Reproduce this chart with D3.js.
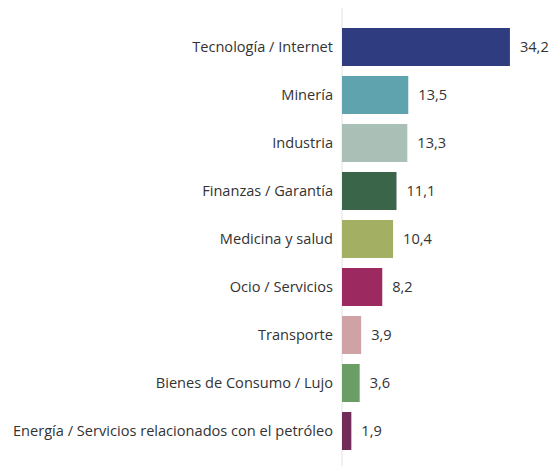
<!DOCTYPE html>
<html>
<head>
<meta charset="utf-8">
<script src="https://cdn.jsdelivr.net/npm/d3@7"></script>
<style>
  body { margin: 0; background: #fff; }
  .label { font-family: "Open Sans", "Liberation Sans", sans-serif; font-size: 14.6px; fill: #333; }
</style>
</head>
<body>
<script>
var categories = ['Tecnología / Internet', 'Minería', 'Industria', 'Finanzas / Garantía', 'Medicina y salud',
  'Ocio / Servicios', 'Transporte', 'Bienes de Consumo / Lujo', 'Energía / Servicios relacionados con el petróleo'];
var values = [34.2, 13.5, 13.3, 11.1, 10.4, 8.2, 3.9, 3.6, 1.9];
var colors = ['#2f3d80', '#5fa3ae', '#aabfb5', '#3a6549', '#a3b064', '#9c2a61', '#cfa3a5', '#6b9e64', '#712c59'];

var W = 550, H = 466;
var left = 342;

var svg = d3.select('body').append('svg')
  .attr('width', W)
  .attr('height', H);

var x = d3.scaleLinear().domain([0, 35]).range([left, left + 35 * 4.91]);
var y = d3.scaleBand().domain(categories).range([23, 455])
  .paddingInner(10 / 48).paddingOuter(5 / 48);

// baseline
svg.append('line')
  .attr('x1', left).attr('x2', left)
  .attr('y1', 8).attr('y2', H)
  .attr('stroke', '#e2e2e2').attr('stroke-width', 1);

svg.selectAll('rect.bar')
  .data(values)
  .enter().append('rect')
    .attr('class', 'bar')
    .attr('x', x(0))
    .attr('y', function(d, i){ return y(categories[i]); })
    .attr('width', function(d){ return x(d) - x(0); })
    .attr('height', y.bandwidth())
    .attr('fill', function(d, i){ return colors[i]; });

// category labels
svg.selectAll('text.cat')
  .data(categories)
  .enter().append('text')
    .attr('class', 'label cat')
    .attr('x', left - 9)
    .attr('y', function(d){ return y(d) + y.bandwidth() / 2; })
    .attr('dy', '0.35em')
    .attr('text-anchor', 'end')
    .text(function(d){ return d; });

// value labels
svg.selectAll('text.val')
  .data(values)
  .enter().append('text')
    .attr('class', 'label val')
    .attr('x', function(d){ return x(d) + 10; })
    .attr('y', function(d, i){ return y(categories[i]) + y.bandwidth() / 2; })
    .attr('dy', '0.35em')
    .text(function(d){ return String(d).replace('.', ','); });
</script>
</body>
</html>
